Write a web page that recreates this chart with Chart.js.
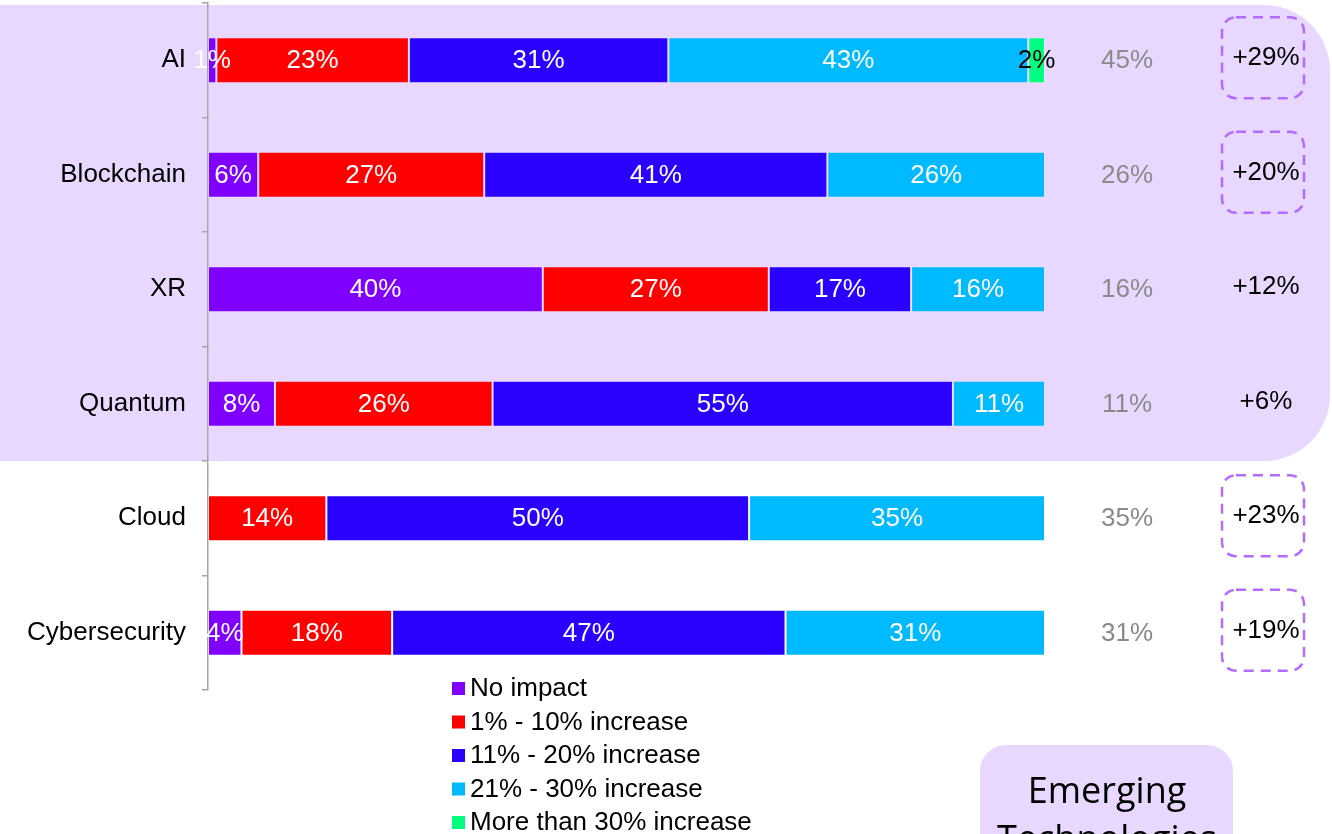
<!DOCTYPE html>
<html>
<head>
  <title>Expected impact of technologies</title>
  <script src="https://cdn.jsdelivr.net/npm/chart.js@4.4.1/dist/chart.umd.min.js"></script>
  <style>
    html, body {
      margin: 0;
      padding: 0;
      background: #fff;
      overflow: hidden;
    }

    .chart-container {
      position: relative;
      width: 1332px;
      height: 834px;
    }
  </style>
</head>
<body>
  <div class="chart-container">
    <canvas id="impactChart"></canvas>
  </div>

  <script>
    // rows and survey shares (percent of respondents)
    const technologies = ['AI', 'Blockchain', 'XR', 'Quantum', 'Cloud', 'Cybersecurity'];
    const noImpact = [1, 6, 40, 8, 0, 4];
    const up1to10 = [23, 27, 27, 26, 14, 18];
    const up11to20 = [31, 41, 17, 55, 50, 47];
    const up21to30 = [43, 26, 16, 11, 35, 31];
    const over30 = [2, 0, 0, 0, 0, 0];

    // side columns
    const over20Share = [45, 26, 16, 11, 35, 31];
    const change = [29, 20, 12, 6, 23, 19];
    const boxed = [true, true, false, false, true, true];

    const seriesNames = ['No impact', '1% - 10% increase', '11% - 20% increase', '21% - 30% increase', 'More than 30% increase'];
    const seriesValues = [noImpact, up1to10, up11to20, up21to30, over30];
    const seriesColors = ['#8000FF', '#FF0000', '#2A00FF', '#00BAFF', '#00FF80'];

    const LAVENDER = '#E8D8FF';
    const TEXT_FONT = "'Liberation Sans', Arial, sans-serif";
    const TEXT_SIZE = 26;
    Chart.defaults.font.family = TEXT_FONT;

    // 100% stacked: each row is scaled to its own total
    const rowTotals = technologies.map((_, i) => seriesValues.reduce((s, arr) => s + arr[i], 0));

    const datasets = seriesValues.map((vals, k) => ({
      label: seriesNames[k],
      raw: vals,
      data: vals.map((v, i) => v > 0 ? v / rowTotals[i] * 100 : null),
      backgroundColor: seriesColors[k],
      borderColor: 'rgba(255,255,255,0.18)',
      borderWidth: 1,
      borderSkipped: false,
      barPercentage: 0.4,
      categoryPercentage: 1
    }));

    function roundBox(ctx, x, y, w, h, r) {
      ctx.beginPath();
      ctx.roundRect(x, y, w, h, r);
    }

    // lavender band behind the emerging technologies rows
    const backdrop = {
      id: 'backdrop',
      beforeDraw(chart) {
        const ctx = chart.ctx;
        const y = chart.scales.y;
        const top = 5;
        const bottom = (y.getPixelForValue(3) + y.getPixelForValue(4)) / 2;
        ctx.save();
        ctx.fillStyle = LAVENDER;
        roundBox(ctx, -100, top, 1430, bottom - top, 66);
        ctx.fill();
        ctx.restore();
      }
    };

    const valueLabels = {
      id: 'valueLabels',
      afterDatasetsDraw(chart) {
        const ctx = chart.ctx;
        ctx.save();
        ctx.font = TEXT_SIZE + 'px ' + TEXT_FONT;
        ctx.textAlign = 'center';
        ctx.textBaseline = 'middle';
        chart.data.datasets.forEach((ds, k) => {
          const meta = chart.getDatasetMeta(k);
          meta.data.forEach((bar, i) => {
            if (!(ds.raw[i] > 0)) return;
            const c = bar.getCenterPoint();
            ctx.fillStyle = k === 4 ? '#000' : '#fff';
            ctx.fillText(ds.raw[i] + '%', c.x, c.y + 1);
          });
        });
        ctx.restore();
      }
    };

    const sideColumns = {
      id: 'sideColumns',
      afterDraw(chart) {
        const ctx = chart.ctx;
        const y = chart.scales.y;
        ctx.save();
        ctx.font = TEXT_SIZE + 'px ' + TEXT_FONT;
        ctx.textAlign = 'center';
        ctx.textBaseline = 'middle';
        technologies.forEach((_, i) => {
          const cy = y.getPixelForValue(i);
          ctx.fillStyle = '#8A8A8A';
          ctx.fillText(over20Share[i] + '%', 1127, cy + 1);
          ctx.fillStyle = '#000';
          ctx.fillText('+' + change[i] + '%', 1266, cy - 2);
          if (boxed[i]) {
            ctx.strokeStyle = '#B26CFF';
            ctx.lineWidth = 2.5;
            ctx.setLineDash([10, 7]);
            roundBox(ctx, 1222, cy - 43, 82, 81, 14);
            ctx.stroke();
            ctx.setLineDash([]);
          }
        });
        ctx.restore();
      }
    };

    // vertical legend under the bars
    const columnLegend = {
      id: 'columnLegend',
      afterDraw(chart) {
        const ctx = chart.ctx;
        ctx.save();
        ctx.font = TEXT_SIZE + 'px ' + TEXT_FONT;
        ctx.textAlign = 'left';
        ctx.textBaseline = 'middle';
        chart.data.datasets.forEach((ds, k) => {
          const cy = 688 + k * 33.5;
          ctx.fillStyle = ds.backgroundColor;
          ctx.fillRect(452, cy - 6, 13, 13);
          ctx.fillStyle = '#000';
          ctx.fillText(ds.label, 470, cy + 1);
        });
        ctx.restore();
      }
    };

    const emergingTag = {
      id: 'emergingTag',
      afterDraw(chart) {
        const ctx = chart.ctx;
        ctx.save();
        ctx.fillStyle = LAVENDER;
        roundBox(ctx, 980, 745, 253, 160, 26);
        ctx.fill();
        ctx.fillStyle = '#000';
        ctx.font = "36px 'Open Sans', 'Noto Sans', sans-serif";
        ctx.textAlign = 'center';
        ctx.textBaseline = 'alphabetic';
        ctx.fillText('Emerging', 1107, 803);
        ctx.fillText('Technologies', 1107, 851);
        ctx.restore();
      }
    };

    new Chart(document.getElementById('impactChart').getContext('2d'), {
      type: 'bar',
      data: { labels: technologies, datasets: datasets },
      options: {
        indexAxis: 'y',
        responsive: true,
        maintainAspectRatio: false,
        animation: false,
        layout: { padding: { top: 3, right: 287, bottom: 144, left: 0 } },
        scales: {
          x: { stacked: true, min: 0, max: 100, display: false },
          y: {
            stacked: true,
            afterFit: s => {
              s.width = 208;
              s.paddingTop = 0;
              s.paddingBottom = 0;
            },
            grid: { drawOnChartArea: false, drawTicks: true, tickLength: 6, color: '#A6A6A6', lineWidth: 1.5, offset: true },
            border: { display: true, color: '#A6A6A6', width: 1.5 },
            ticks: { color: '#000', font: { size: TEXT_SIZE }, padding: 16 }
          }
        },
        plugins: {
          legend: { display: false },
          tooltip: { enabled: false }
        }
      },
      plugins: [backdrop, valueLabels, sideColumns, columnLegend, emergingTag]
    });
  </script>
</body>
</html>
